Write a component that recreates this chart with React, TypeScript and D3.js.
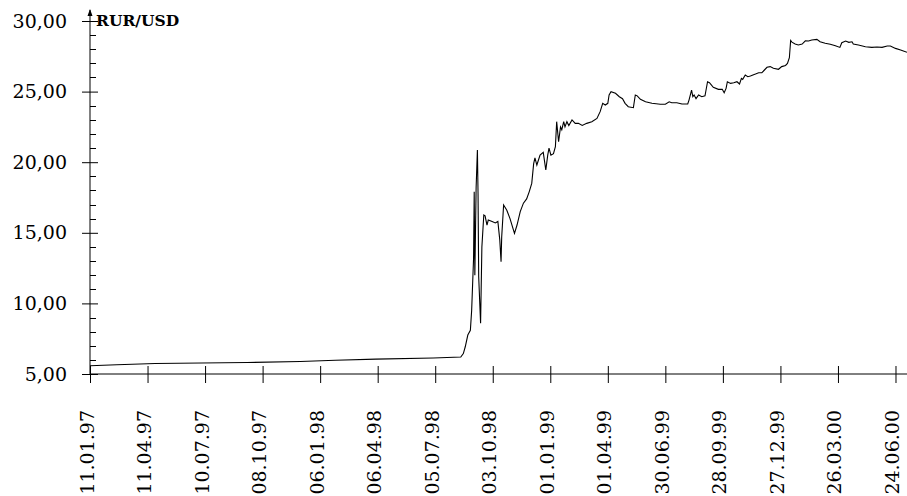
import { useEffect, useRef } from 'react';
import * as d3 from 'd3';

// Exchange rate RUR/USD
const tickLabels = [
  '11.01.97', '11.04.97', '10.07.97', '08.10.97', '06.01.98', '06.04.98', '05.07.98', '03.10.98',
  '01.01.99', '01.04.99', '30.06.99', '28.09.99', '27.12.99', '26.03.00', '24.06.00',
];
const dateStart = '11.01.97';
const dateEnd = '12.07.00';
const yTicks = [5, 10, 15, 20, 25, 30];
const yMinorTicks = [6, 7, 8, 9, 11, 12, 13, 14, 16, 17, 18, 19, 21, 22, 23, 24, 26, 27, 28, 29];
const unitLabel = 'RUR/USD';

const dates = [
  '11.01.97', '22.02.97', '23.04.97', '14.09.97', '06.12.97', '30.01.98', '03.04.98', '02.07.98',
  '14.08.98', '18.08.98', '21.08.98', '25.08.98', '29.08.98', '31.08.98', '03.09.98', '04.09.98',
  '05.09.98', '07.09.98', '09.09.98', '10.09.98', '11.09.98', '14.09.98', '16.09.98', '19.09.98',
  '21.09.98', '24.09.98', '26.09.98', '02.10.98', '07.10.98', '11.10.98', '14.10.98', '16.10.98',
  '17.10.98', '20.10.98', '25.10.98', '30.10.98', '06.11.98', '10.11.98', '15.11.98', '20.11.98',
  '25.11.98', '29.11.98', '03.12.98', '06.12.98', '08.12.98', '11.12.98', '16.12.98', '21.12.98',
  '25.12.98', '28.12.98', '30.12.98', '02.01.99', '06.01.99', '09.01.99', '11.01.99', '14.01.99',
  '17.01.99', '19.01.99', '22.01.99', '24.01.99', '27.01.99', '30.01.99', '04.02.99', '09.02.99',
  '14.02.99', '20.02.99', '27.02.99', '07.03.99', '15.03.99', '20.03.99', '24.03.99', '28.03.99',
  '01.04.99', '03.04.99', '06.04.99', '13.04.99', '19.04.99', '24.04.99', '28.04.99', '03.05.99',
  '11.05.99', '14.05.99', '17.05.99', '22.05.99', '30.05.99', '09.06.99', '22.06.99', '30.06.99',
  '06.07.99', '10.07.99', '18.07.99', '26.07.99', '04.08.99', '06.08.99', '10.08.99', '12.08.99',
  '14.08.99', '17.08.99', '21.08.99', '26.08.99', '31.08.99', '04.09.99', '07.09.99', '13.09.99',
  '21.09.99', '27.09.99', '30.09.99', '03.10.99', '05.10.99', '10.10.99', '15.10.99', '20.10.99',
  '24.10.99', '27.10.99', '29.10.99', '02.11.99', '06.11.99', '10.11.99', '18.11.99', '23.11.99',
  '28.11.99', '02.12.99', '06.12.99', '11.12.99', '16.12.99', '24.12.99', '29.12.99', '04.01.00',
  '07.01.00', '10.01.00', '12.01.00', '14.01.00', '19.01.00', '24.01.00', '30.01.00', '04.02.00',
  '09.02.00', '14.02.00', '22.02.00', '27.02.00', '06.03.00', '14.03.00', '22.03.00', '29.03.00',
  '01.04.00', '07.04.00', '12.04.00', '17.04.00', '19.04.00', '27.04.00', '08.05.00', '18.05.00',
  '26.05.00', '03.06.00', '11.06.00', '16.06.00', '24.06.00', '02.07.00', '12.07.00',
];
const rates = [
  5.58, 5.66, 5.74, 5.81, 5.89, 5.97, 6.05, 6.13,
  6.20, 6.45, 6.93, 7.76, 8.10, 9.50, 13.2, 17.9,
  12.0, 18.2, 20.86, 17.8, 11.9, 8.6, 14.0, 16.26,
  16.2, 15.55, 15.9, 15.8, 15.7, 15.8, 14.5, 12.95,
  14.7, 16.97, 16.6, 16.0, 14.96, 15.55, 16.5, 17.1,
  17.4, 17.9, 18.5, 19.9, 20.3, 19.8, 20.5, 20.7,
  19.45, 20.5, 21.0, 20.5, 20.6, 21.1, 22.87, 21.45,
  22.5, 22.3, 22.87, 22.5, 22.87, 22.6, 22.99, 22.75,
  22.75, 22.6, 22.75, 22.87, 23.1, 23.58, 24.17, 24.05,
  24.17, 24.76, 24.99, 24.88, 24.64, 24.5, 24.17, 23.93,
  23.86, 24.76, 24.7, 24.45, 24.28, 24.17, 24.1, 24.1,
  24.28, 24.21, 24.21, 24.12, 24.12, 24.4, 25.1, 24.64,
  24.76, 24.5, 24.76, 24.64, 24.7, 25.7, 25.63, 25.3,
  25.16, 25.16, 24.92, 25.23, 25.7, 25.58, 25.63, 25.7,
  25.54, 25.94, 25.87, 26.17, 26.05, 26.1, 26.24, 26.34,
  26.34, 26.53, 26.72, 26.77, 26.65, 26.58, 26.77, 26.85,
  27.0, 27.4, 28.62, 28.5, 28.37, 28.3, 28.37, 28.6,
  28.58, 28.65, 28.7, 28.53, 28.42, 28.35, 28.25, 28.13,
  28.46, 28.58, 28.49, 28.53, 28.37, 28.3, 28.18, 28.13,
  28.16, 28.13, 28.23, 28.23, 28.06, 27.95, 27.78,
];

const W = 907;
const H = 496;
const FONT = '"DejaVu Serif", serif';

export default function App() {
  const ref = useRef<SVGSVGElement | null>(null);

  useEffect(() => {
    if (!ref.current) return;
    const svg = d3.select(ref.current);
    svg.selectAll('*').remove();

    const parse = d3.timeParse('%d.%m.%y');
    const points = dates.map((d, i) => ({ t: parse(d) as Date, v: rates[i] }));
    const tickDates = tickLabels.map(d => parse(d) as Date);

    const x = d3.scaleTime()
      .domain([parse(dateStart) as Date, parse(dateEnd) as Date])
      .range([90, 907]);
    const y = d3.scaleLinear().domain([5, 30]).range([374, 21]);

    const x0 = x.range()[0];
    const y0 = y.range()[0];

    // y axis: major ticks cross the line, minor ticks on the right side
    svg.append('g')
      .attr('transform', `translate(${x0},0)`)
      .call(d3.axisLeft(y).tickValues(yTicks).tickFormat(v => (+v).toFixed(2).replace('.', ',')))
      .call(ax => ax.select('.domain').remove())
      .call(ax => ax.selectAll('.tick line').attr('x1', -8).attr('x2', 8).attr('stroke', '#000'))
      .call(ax => ax.selectAll('.tick text')
        .attr('x', -23).attr('fill', '#000')
        .attr('font-family', FONT).attr('font-size', 19));

    svg.append('g')
      .selectAll('line')
      .data(yMinorTicks)
      .join('line')
      .attr('x1', x0).attr('x2', x0 + 6)
      .attr('y1', d => Math.round(y(d)) + 0.5).attr('y2', d => Math.round(y(d)) + 0.5)
      .attr('stroke', '#000').attr('stroke-width', 1);

    svg.append('line')
      .attr('x1', x0).attr('x2', x0).attr('y1', y0).attr('y2', 10)
      .attr('stroke', '#000').attr('stroke-width', 1);
    svg.append('path')
      .attr('d', `M${x0},9 L${x0 - 2.5},16 L${x0 + 2.5},16 Z`)
      .attr('fill', '#000');

    svg.append('text')
      .attr('x', x0 + 6).attr('y', 26)
      .attr('font-family', FONT).attr('font-weight', 'bold')
      .attr('font-size', 15.5).attr('fill', '#000')
      .text(unitLabel);

    // x axis
    svg.append('g')
      .attr('transform', `translate(0,${y0})`)
      .call(d3.axisBottom(x).tickValues(tickDates).tickFormat((_, i) => tickLabels[i]))
      .call(ax => ax.select('.domain').attr('d', `M${x0},0H${W}`).attr('stroke', '#000'))
      .call(ax => ax.selectAll('.tick line').attr('y1', -8).attr('y2', 9).attr('stroke', '#000'))
      .call(ax => ax.selectAll('.tick text')
        .attr('transform', 'rotate(-90)')
        .attr('x', -36).attr('y', 3).attr('dy', 0)
        .attr('text-anchor', 'end')
        .attr('fill', '#000')
        .attr('font-family', FONT).attr('font-size', 19));

    // rate line
    const line = d3.line<{ t: Date; v: number }>()
      .x(d => x(d.t))
      .y(d => y(d.v));

    svg.append('path')
      .datum(points)
      .attr('fill', 'none')
      .attr('stroke', '#000')
      .attr('stroke-width', 1.1)
      .attr('d', line);
  }, []);

  return (
    <svg
      ref={ref}
      width={W}
      height={H}
      style={{ position: 'absolute', left: 0, top: 0, background: '#fff' }}
    />
  );
}
